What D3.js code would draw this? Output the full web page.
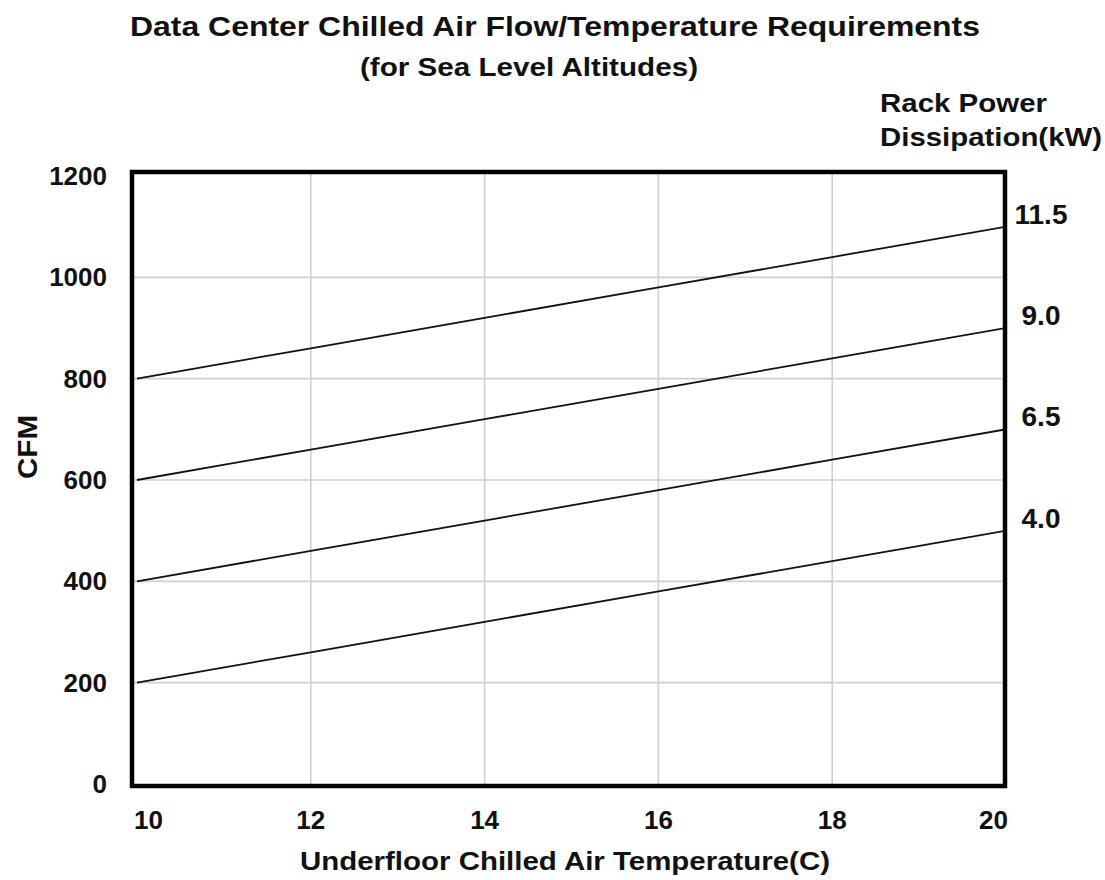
<!DOCTYPE html>
<meta charset="utf-8">
<script src="https://d3js.org/d3.v7.min.js"></script>
<style>
  body { margin: 0; background: #fff; }
  text { font-family: 'Liberation Sans', Arial, sans-serif; font-weight: bold; fill: #111; }
</style>
<div id="chart"></div>
<script>
// data
var temps = [10, 12, 14, 16, 18, 20];
var rackPower = ["4.0", "6.5", "9.0", "11.5"];
var cfm40 = [200, 260, 320, 380, 440, 500];
var cfm65 = [400, 460, 520, 580, 640, 700];
var cfm90 = [600, 660, 720, 780, 840, 900];
var cfm115 = [800, 860, 920, 980, 1040, 1100];
var xTicks = [10, 12, 14, 16, 18, 20];
var yTicks = [0, 200, 400, 600, 800, 1000, 1200];

var series = [cfm40, cfm65, cfm90, cfm115].map(function(v, i) {
  return { key: rackPower[i], values: v.map(function(c, j) { return { t: temps[j], cfm: c }; }) };
});

var W = 1105, H = 880;
var svg = d3.select("#chart").append("svg").attr("width", W).attr("height", H);

var x = d3.scaleLinear().domain([10, 20]).range([137, 1006]);
var y = d3.scaleLinear().domain([0, 1200]).range([784, 176]);

// frame bounds
var fx0 = 132, fx1 = 1005, fy0 = 172, fy1 = 786;

// grid
svg.append("g").selectAll("line.v")
  .data(xTicks.slice(1, -1)).enter().append("line")
    .attr("x1", function(d) { return x(d); }).attr("x2", function(d) { return x(d); })
    .attr("y1", fy0).attr("y2", fy1)
    .attr("stroke", "#cfcfcf").attr("stroke-width", 1.6);
svg.append("g").selectAll("line.h")
  .data(yTicks.slice(1, -1)).enter().append("line")
    .attr("x1", fx0).attr("x2", fx1)
    .attr("y1", function(d) { return y(d); }).attr("y2", function(d) { return y(d); })
    .attr("stroke", "#cfcfcf").attr("stroke-width", 1.6);

// lines
svg.append("defs").append("clipPath").attr("id", "clip")
  .append("rect").attr("x", fx0).attr("y", fy0).attr("width", fx1 - fx0).attr("height", fy1 - fy0);

var line = d3.line()
  .x(function(d) { return x(d.t); })
  .y(function(d) { return y(d.cfm); });

svg.append("g").attr("clip-path", "url(#clip)")
  .selectAll("path").data(series).enter().append("path")
    .attr("d", function(d) { return line(d.values); })
    .attr("fill", "none").attr("stroke", "#111").attr("stroke-width", 1.8);

// frame
svg.append("rect")
  .attr("x", fx0).attr("y", fy0).attr("width", fx1 - fx0).attr("height", fy1 - fy0)
  .attr("fill", "none").attr("stroke", "#000").attr("stroke-width", 4.5);

// y tick labels
svg.append("g").selectAll("text").data(yTicks).enter().append("text")
  .attr("x", 107).attr("y", function(d) { return y(d) + 9; })
  .attr("text-anchor", "end").style("font-size", "26px")
  .text(function(d) { return d; });

// x tick labels
svg.append("g").selectAll("text").data(xTicks).enter().append("text")
  .attr("x", function(d, i) { return i == 0 ? x(d) - 3 : (i == xTicks.length - 1 ? x(d) + 2 : x(d)); })
  .attr("y", 829)
  .attr("text-anchor", function(d, i) { return i == 0 ? "start" : (i == xTicks.length - 1 ? "end" : "middle"); })
  .style("font-size", "26px")
  .text(function(d) { return d; });

// right series labels
svg.append("g").selectAll("text").data(series).enter().append("text")
  .attr("x", 1041)
  .attr("y", function(d) { return y(d.values[d.values.length - 1].cfm) - 3; })
  .attr("text-anchor", "middle").style("font-size", "28px")
  .text(function(d) { return d.key; });

// titles (stretched a bit, the original lettering is wider)
function label(txt, xx, yy, size, len, anchor) {
  return svg.append("text").attr("x", xx).attr("y", yy)
    .attr("text-anchor", anchor || "start")
    .style("font-size", size + "px")
    .attr("textLength", len).attr("lengthAdjust", "spacingAndGlyphs")
    .text(txt);
}
label("Data Center Chilled Air Flow/Temperature Requirements", 555, 36, 27, 850, "middle");
label("(for Sea Level Altitudes)", 529, 76, 25, 338, "middle");
label("Rack Power", 880, 112, 25, 167);
label("Dissipation(kW)", 880, 146, 25, 222);
label("Underfloor Chilled Air Temperature(C)", 565, 870, 26, 530, "middle");

svg.append("text").attr("transform", "translate(37,447) rotate(-90)")
  .attr("text-anchor", "middle").style("font-size", "28px")
  .attr("textLength", 64).attr("lengthAdjust", "spacingAndGlyphs")
  .text("CFM");
</script>
